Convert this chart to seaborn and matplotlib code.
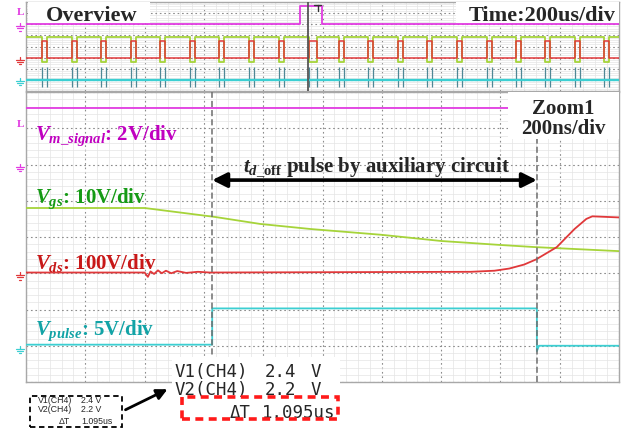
import matplotlib
matplotlib.use("Agg")
import matplotlib.pyplot as plt
import seaborn as sns
from matplotlib.patches import Rectangle, FancyArrowPatch
from matplotlib.lines import Line2D

# ---------------- Overview record: 200 us/div, vertical in divisions ----------------
ov_pulse_start_us = [53, 154, 252, 353, 452, 553, 652, 753, 854, 955,
                     1057, 1155, 1256, 1353, 1453, 1554, 1653, 1751, 1852, 1950]
ov_pulse_width_us = [17, 17, 17, 17, 17, 17, 17, 17, 17, 26,
                     17, 17, 17, 17, 17, 17, 17, 17, 17, 17]
ov_msig_t = [0, 924, 924, 998, 998, 2000]
ov_msig_y = [6.0, 6.0, 7.65, 7.65, 6.0, 6.0]
ov_vgs_high, ov_vgs_low = 4.86, 2.6
ov_vds_low, ov_vds_high = 2.97, 4.5
ov_pulse_level = 1.0
ov_spike_range = [0.36, 2.15]
ov_zoom_mark_us = 951

# ---------------- Zoom1 record: 200 ns/div ----------------
zm_msig_t = [0, 2000]
zm_msig_y = [7.55, 7.55]
zm_vgs_t = [0, 400, 640, 790, 960, 1200, 1400, 1600, 1720, 2000]
zm_vgs_y = [4.80, 4.80, 4.55, 4.36, 4.22, 4.06, 3.89, 3.78, 3.72, 3.61]
zm_vds_t = [0, 400, 411, 420, 432, 445, 458, 472, 490, 510, 540, 580, 620,
            1500, 1580, 1630, 1680, 1720, 1790, 1850, 1890, 1910, 2000]
zm_vds_y = [3.02, 3.02, 2.90, 3.05, 2.98, 3.08, 3.00, 3.07, 3.00, 3.06, 3.01, 3.04, 3.02,
            3.04, 3.07, 3.13, 3.24, 3.38, 3.72, 4.22, 4.50, 4.57, 4.54]
zm_pulse_t = [0, 628, 628, 1723, 1723, 1730, 2000]
zm_pulse_y = [1.03, 1.03, 2.03, 2.03, 0.85, 1.0, 1.0]
cursor_t = [628, 1723]

# ground reference levels (div) for each channel
zm_gnd = {"msig": 6.0, "vds": 3.0, "pulse": 0.95}
ov_gnd = {"msig": 6.0, "vds": 3.0, "pulse": 1.0}

readout_labels = ["V1(CH4)", "V2(CH4)"]
readout_values = ["2.4", "2.2"]
delta_label = "\u0394T"
delta_value = "1.095us"

C_MAG, C_MAG_TXT = "#e23be2", "#c000c0"
C_GRN, C_GRN_TXT = "#a6d43a", "#159a15"
C_RED, C_RED_TXT = "#e0383a", "#c81818"
C_CYN, C_CYN_TXT = "#3ccfd2", "#12a3a6"

sns.set_style("white")
plt.rcParams["font.family"] = ["Liberation Serif", "DejaVu Serif"]
plt.rcParams["mathtext.fontset"] = "custom"
plt.rcParams["mathtext.rm"] = "Liberation Serif:bold"
plt.rcParams["mathtext.it"] = "Liberation Serif:italic:bold"
plt.rcParams["mathtext.bf"] = "Liberation Serif:bold"

W, H = 630, 431
fig = plt.figure(figsize=(W / 100, H / 100), dpi=100)
fig.patch.set_facecolor("white")


def fpos(x, y):
    return x / W, 1 - y / H


def make_axes(x0, y0, x1, y1):
    ax = fig.add_axes([x0 / W, 1 - y1 / H, (x1 - x0) / W, (y1 - y0) / H])
    ax.set_xlim(0, 2000)
    ax.set_ylim(0, 8)
    ax.set_xticks(range(0, 2001, 200))
    ax.set_xticks(range(0, 2001, 40), minor=True)
    ax.set_yticks(range(0, 9))
    ax.set_yticks([i * 0.2 for i in range(41)], minor=True)
    ax.grid(which="minor", color="#e4e4e4", lw=0.5, ls="-")
    ax.grid(which="major", color="#8c8c8c", lw=0.8, ls=(0, (1.5, 2.5)))
    ax.tick_params(which="both", length=0, labelbottom=False, labelleft=False)
    for s in ax.spines.values():
        s.set_color("#a8a8a8")
        s.set_linewidth(1.0)
    ax.set_axisbelow(True)
    return ax


ax_ov = make_axes(26, 3, 619, 92)
ax_zm = make_axes(26, 93, 619, 383)


def trace(ax, t, y, color, lw=1.3, z=3):
    sns.lineplot(x=t, y=y, ax=ax, color=color, lw=lw, sort=False,
                 estimator=None, legend=False, zorder=z)


# ---- overview traces built from the switching instants ----
g_t, g_y, r_t, r_y = [0], [ov_vgs_high], [0], [ov_vds_low]
for s, w in zip(ov_pulse_start_us, ov_pulse_width_us):
    g_t += [s, s, s + w, s + w]
    g_y += [ov_vgs_high, ov_vgs_low, ov_vgs_low, ov_vgs_high]
    r_t += [s, s, s + w, s + w]
    r_y += [ov_vds_low, ov_vds_high, ov_vds_high, ov_vds_low]
g_t.append(2000); g_y.append(ov_vgs_high)
r_t.append(2000); r_y.append(ov_vds_low)

trace(ax_ov, ov_msig_t, ov_msig_y, C_MAG)
trace(ax_ov, [0, 2000], [ov_pulse_level, ov_pulse_level], C_CYN, lw=1.7)
edges = [e for s, w in zip(ov_pulse_start_us, ov_pulse_width_us) for e in (s, s + w)]
ax_ov.vlines(edges, ov_spike_range[0], ov_spike_range[1], color="#4f8795", lw=0.9, zorder=2)
trace(ax_ov, g_t, g_y, C_GRN)
trace(ax_ov, r_t, r_y, C_RED, lw=1.1)
ax_ov.axvline(ov_zoom_mark_us, color="#555555", lw=1.3, zorder=4)

# label boxes on the overview
ax_ov.add_patch(Rectangle((8, 6.15), 410, 1.85, facecolor="white", edgecolor="none", zorder=5))
ax_ov.add_patch(Rectangle((1450, 6.15), 550, 1.85, facecolor="white", edgecolor="none", zorder=5))
fig.text(*fpos(46, 21), "Overview", fontsize=16, fontweight="bold", va="baseline", ha="left")
fig.text(*fpos(616, 21), "Time:200us/div", fontsize=16, fontweight="bold", va="baseline", ha="right")
# trigger flag on the overview
fig.add_artist(Line2D([314 / W, 321 / W], [1 - 6 / H, 1 - 6 / H], color="#333333", lw=1))
fig.add_artist(Line2D([318 / W, 318 / W], [1 - 6 / H, 1 - 12 / H], color="#333333", lw=1))

# ---- zoom traces ----
trace(ax_zm, zm_msig_t, zm_msig_y, C_MAG)
trace(ax_zm, zm_vgs_t, zm_vgs_y, C_GRN)
trace(ax_zm, zm_vds_t, zm_vds_y, C_RED)
trace(ax_zm, zm_pulse_t, zm_pulse_y, C_CYN)
for c in cursor_t:
    ax_zm.axvline(c, color="#6e6e6e", lw=1.1, ls=(0, (4, 2)), zorder=4)

ax_zm.add_patch(Rectangle((1626, 6.7), 374, 1.3, facecolor="white", edgecolor="none", zorder=5))
fig.text(*fpos(563, 114), "Zoom1", fontsize=15, fontweight="bold", va="baseline", ha="center")
fig.text(*fpos(563, 134), "200ns/div", fontsize=15, fontweight="bold", va="baseline", ha="center")

# double arrow spanning the cursors
ax_zm.annotate("", xy=(cursor_t[0], 5.57), xytext=(cursor_t[1], 5.57),
               arrowprops=dict(arrowstyle="<|-|>", color="black", lw=2.6,
                               mutation_scale=22, shrinkA=0, shrinkB=0), zorder=6)
fig.text(*fpos(243, 172), r"$t_{d\mathrm{\_off}}$ pulse by auxiliary circuit",
         fontsize=15, fontweight="bold", va="baseline", ha="left")

fig.text(*fpos(35, 140), r"$V_{m\_signal}$: 2V/div", fontsize=15, fontweight="bold",
         color=C_MAG_TXT, va="baseline")
fig.text(*fpos(35, 203), r"$V_{gs}$: 10V/div", fontsize=15, fontweight="bold",
         color=C_GRN_TXT, va="baseline")
fig.text(*fpos(35, 269), r"$V_{ds}$: 100V/div", fontsize=15, fontweight="bold",
         color=C_RED_TXT, va="baseline")
fig.text(*fpos(35, 335), r"$V_{pulse}$: 5V/div", fontsize=15, fontweight="bold",
         color=C_CYN_TXT, va="baseline")


# ---- ground symbols and trigger markers at the left edge ----
def ground(x, y, color):
    for dy, hw in ((0, 4.0), (2.2, 2.7), (4.4, 1.3)):
        fig.add_artist(Line2D([(x - hw) / W, (x + hw) / W], [1 - (y + dy) / H] * 2,
                              color=color, lw=0.9))
    fig.add_artist(Line2D([x / W, x / W], [1 - (y - 3) / H, 1 - y / H], color=color, lw=0.9))


def div_to_px(top, bottom, level):
    return bottom - level * (bottom - top) / 8


ground(20, div_to_px(3, 92, ov_gnd["msig"]) + 2, C_MAG)
ground(20, div_to_px(3, 92, ov_gnd["vds"]) + 2, C_RED)
ground(20, div_to_px(3, 92, ov_gnd["pulse"]) + 1, C_CYN)
ground(20, div_to_px(93, 383, zm_gnd["msig"]) + 2, C_MAG)
ground(20, div_to_px(93, 383, zm_gnd["vds"]) + 2, C_RED)
ground(20, div_to_px(93, 383, zm_gnd["pulse"]) + 1, C_CYN)
for yy in (15, 127):
    fig.text(*fpos(17, yy), "L", fontsize=8, fontweight="bold", color=C_MAG, va="baseline")

# ---- cursor readout ----
fig.add_artist(Rectangle((172 / W, 1 - 422 / H), 168 / W, 64 / H, transform=fig.transFigure,
                         facecolor="white", edgecolor="none", zorder=1))
mono = ["DejaVu Sans Mono", "Liberation Mono"]
for i, (lab, val) in enumerate(zip(readout_labels, readout_values)):
    yb = 377 + 18.5 * i
    fig.text(*fpos(175, yb), lab, fontsize=12.5, family=mono, va="baseline")
    fig.text(*fpos(265, yb), val, fontsize=12.5, family=mono, va="baseline")
    fig.text(*fpos(311, yb), "V", fontsize=12.5, family=mono, va="baseline")
fig.text(*fpos(251, 418), delta_label, fontsize=12.5, family=mono, va="baseline", ha="right")
fig.text(*fpos(262, 418), delta_value, fontsize=12.5, family=mono, va="baseline")
fig.add_artist(Rectangle((182 / W, 1 - 420 / H), 156 / W, 22 / H, transform=fig.transFigure,
                         facecolor="none", edgecolor="#ff1a1a", lw=2.6, ls=(0, (2.2, 1.5)),
                         zorder=4))

# small copy of the readout
fig.add_artist(Rectangle((30 / W, 1 - 428 / H), 92 / W, 31 / H, transform=fig.transFigure,
                         facecolor="white", edgecolor="black", lw=1.3, ls=(0, (3, 2)), zorder=4))
small = ["Liberation Sans", "DejaVu Sans"]
for i, (lab, val) in enumerate(zip(readout_labels, readout_values)):
    yb = 403 + 9.5 * i
    fig.text(*fpos(38, yb), lab, fontsize=6.3, family=small, va="baseline", zorder=5)
    fig.text(*fpos(81, yb), val + " V", fontsize=6.3, family=small, va="baseline", zorder=5)
fig.text(*fpos(70, 424), delta_label, fontsize=6.3, family=small, va="baseline", ha="right", zorder=5)
fig.text(*fpos(81, 424), delta_value, fontsize=6.3, family=small, va="baseline", zorder=5)
fig.add_artist(FancyArrowPatch(
    (123 / W, 1 - 412 / H), (170 / W, 1 - 389 / H), transform=fig.transFigure,
    arrowstyle="-|>", mutation_scale=16, lw=2, color="black", zorder=4))

fig.savefig("out.png", dpi=100, facecolor="white")
